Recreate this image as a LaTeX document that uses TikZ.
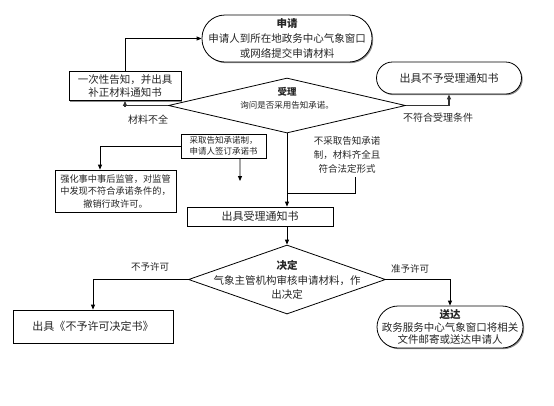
\documentclass[tikz,border=0pt]{standalone}
\usepackage{fontspec}
\setmainfont{Noto Sans CJK SC}
\usetikzlibrary{arrows.meta,shapes.geometric,shadows,calc}
\newcommand{\fs}[2]{\fontsize{#1bp}{#2bp}\selectfont}
\begin{document}
\begin{tikzpicture}[x=1bp,y=-1bp,
  line width=0.8bp,
  arr/.style={-{Triangle[length=5bp,width=4bp]}},
  thk/.style={line width=1.5bp,draw=black!80},
  shd/.style={drop shadow={shadow xshift=1.2bp,shadow yshift=-1.2bp,fill=black!45,opacity=1}},
  boxs/.style={draw,fill=white,shd,inner sep=0,align=center,text=black!85},
  stad/.style={boxs,rounded corners=#1},
  dia/.style={diamond,draw,fill=white,inner sep=0},
  lbl/.style={inner sep=0,text=black!85,align=center},
]
\useasboundingbox (0,0) rectangle (554,405);

\node[stad=23bp,minimum width=170bp,minimum height=47bp,font=\fs{10.5}{15}] (apply) at (287,38.5) {\textbf{申请}\\申请人到所在地政务中心气象窗口\\或网络提交申请材料};
\node[boxs,minimum width=112bp,minimum height=29bp,font=\fs{10.5}{13.5}] (notice1) at (125,86) {一次性告知，并出具\\补正材料通知书};
\node[stad=16bp,minimum width=145bp,minimum height=32bp,font=\fs{11}{13}] (reject1) at (449,78) {出具不予受理通知书};
\node[dia,minimum width=237bp,minimum height=55bp] (acc) at (287,105.5) {};
\node[lbl,font=\fs{9.5}{10}] (acct1) at (287,91.5) {\textbf{受理}};
\node[lbl,font=\fs{8.5}{9}] (acct2) at (287,105) {询问是否采用告知承诺。};
\node[boxs,minimum width=85bp,minimum height=24bp,font=\fs{8.5}{11}] (promise) at (223.5,146) {采取告知承诺制，\\申请人签订承诺书};
\node[boxs,minimum width=121bp,minimum height=42bp,font=\fs{9.2}{12.5}] (strong) at (115.5,191) {强化事中事后监管，对监管\\中发现不符合承诺条件的，\\撤销行政许可。};
\node[boxs,minimum width=146bp,minimum height=19bp,font=\fs{11}{13}] (accnote) at (260,216.5) {出具受理通知书};
\node[dia,minimum width=197bp,minimum height=69bp] (dec) at (287,279.5) {};
\node[lbl,font=\fs{10.5}{14.5}] (dect) at (287,280) {\textbf{决定}\\气象主管机构审核申请材料，作\\出决定};
\node[boxs,minimum width=160bp,minimum height=33bp,font=\fs{11}{13}] (deny) at (93,326.5) {出具《不予许可决定书》};
\node[stad=21bp,minimum width=146bp,minimum height=42bp,font=\fs{10.5}{12.5}] (deliver) at (450,327) {\textbf{送达}\\政务服务中心气象窗口将相关\\文件邮寄或送达申请人};

\node[lbl,font=\fs{10}{12}] (l1) at (148,120) {材料不全};
\node[lbl,font=\fs{10}{12}] (l2) at (438,118) {不符合受理条件};
\node[lbl,font=\fs{9.5}{14}] (l3) at (347,155) {不采取告知承诺\\制，材料齐全且\\符合法定形式};
\node[lbl,font=\fs{9.5}{12}] (l4) at (150,267) {不予许可};
\node[lbl,font=\fs{9.5}{12}] (l5) at (410,269) {准予许可};

\coordinate (c1) at (355,177);
\coordinate (j) at (287,193);
\coordinate (c2) at (240,181);

\draw[arr] (notice1.north) |- (apply.west);
\draw[arr,thk] (acc.west) -| (notice1.south);
\draw[arr,thk] (acc.east) -| (reject1.south);
\draw[arr] (acc.south) -- (acc.south |- accnote.north);
\draw[arr] (promise.west) -| ([xshift=-15.5bp]strong.north);
\draw[arr] ([xshift=16.5bp]promise.south) -- (c2);
\draw (c1) |- (j);
\draw[arr] (dec.north |- accnote.south) -- (dec.north);
\draw[arr] (dec.west) -| (deny.north);
\draw[arr] (dec.east) -| (deliver.north);
\end{tikzpicture}
\end{document}
